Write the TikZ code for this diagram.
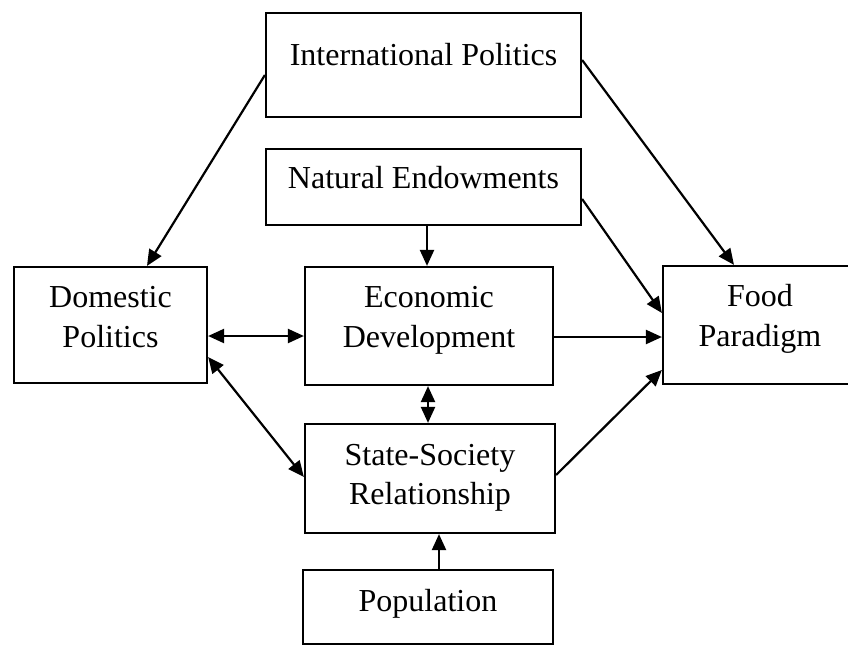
\documentclass[tikz,border=0pt]{standalone}
\usepackage{fontspec}
\setmainfont{Liberation Serif}
\usetikzlibrary{arrows.meta}
\begin{document}
\begin{tikzpicture}[x=1pt,y=-1pt,
  box/.style={draw=black,line width=2.2pt,rectangle,inner sep=0pt,fill=white},
  lbl/.style={anchor=base,inner sep=0pt,font=\fontsize{32}{40}\selectfont},
  tip/.style={Triangle[length=16pt,width=14pt]},
  arr/.style={line width=2.2pt,-{Triangle[length=16pt,width=14pt]}},
  darr/.style={line width=2.2pt,{Triangle[length=16pt,width=14pt]}-{Triangle[length=16pt,width=14pt]}}]
\useasboundingbox (0,0) rectangle (848,645);
\clip (0,0) rectangle (848,645);

% boxes
\node[box,minimum width=315pt,minimum height=104pt] (ip)    at (423.5,65) {};
\node[box,minimum width=315pt,minimum height=76pt]  (ne)    at (423.5,187) {};
\node[box,minimum width=193pt,minimum height=116pt] (dom)   at (110.5,325) {};
\node[box,minimum width=248pt,minimum height=118pt] (econ)  at (429,326) {};
\node[box,minimum width=194pt,minimum height=118pt] (food)  at (760,325) {};
\node[box,minimum width=250pt,minimum height=109pt] (state) at (430,478.5) {};
\node[box,minimum width=250pt,minimum height=74pt]  (pop)   at (428,607) {};

% labels
\node[lbl] (ipT)    at (423.5,65)  {International Politics};
\node[lbl] (neT)    at (423.5,188) {Natural Endowments};
\node[lbl] (domT1)  at (110.5,307) {Domestic};
\node[lbl] (domT2)  at (110.5,347) {Politics};
\node[lbl] (econT1) at (429,307)   {Economic};
\node[lbl] (econT2) at (429,347)   {Development};
\node[lbl] (foodT1) at (760,306)   {Food};
\node[lbl] (foodT2) at (760,346)   {Paradigm};
\node[lbl] (stT1)   at (430,465)   {State-Society};
\node[lbl] (stT2)   at (430,504)   {Relationship};
\node[lbl] (popT)   at (428,611)   {Population};

% connectors
\draw[arr]  ([yshift=-10pt]ip.west) -- ([xshift=36.5pt]dom.north);
\draw[arr]  ([yshift=5pt]ip.east) -- ([xshift=-26pt]food.north);
\draw[arr]  ([yshift=-12pt]ne.east) -- ([yshift=12pt]food.west);
\draw[arr]  ([xshift=3.5pt]ne.south) -- ([xshift=3.5pt]ne.south |- econ.north);
\draw[darr] ([yshift=-11pt]dom.east) -- ([yshift=-11pt]dom.east -| econ.west);
\draw[darr] ([yshift=-32pt]dom.east) -- ([yshift=1.5pt]state.west);
\draw[arr]  ([yshift=-11pt]econ.east) -- ([yshift=-11pt]econ.east -| food.west);
\draw[darr] ([xshift=-1pt]econ.south) -- ([xshift=-1pt]econ.south |- state.north);
\draw[arr]  ([yshift=3.5pt]state.east) -- ([yshift=-45pt]food.west);
\draw[arr]  ([xshift=11pt]pop.north) -- ([xshift=11pt]pop.north |- state.south);
\end{tikzpicture}
\end{document}
